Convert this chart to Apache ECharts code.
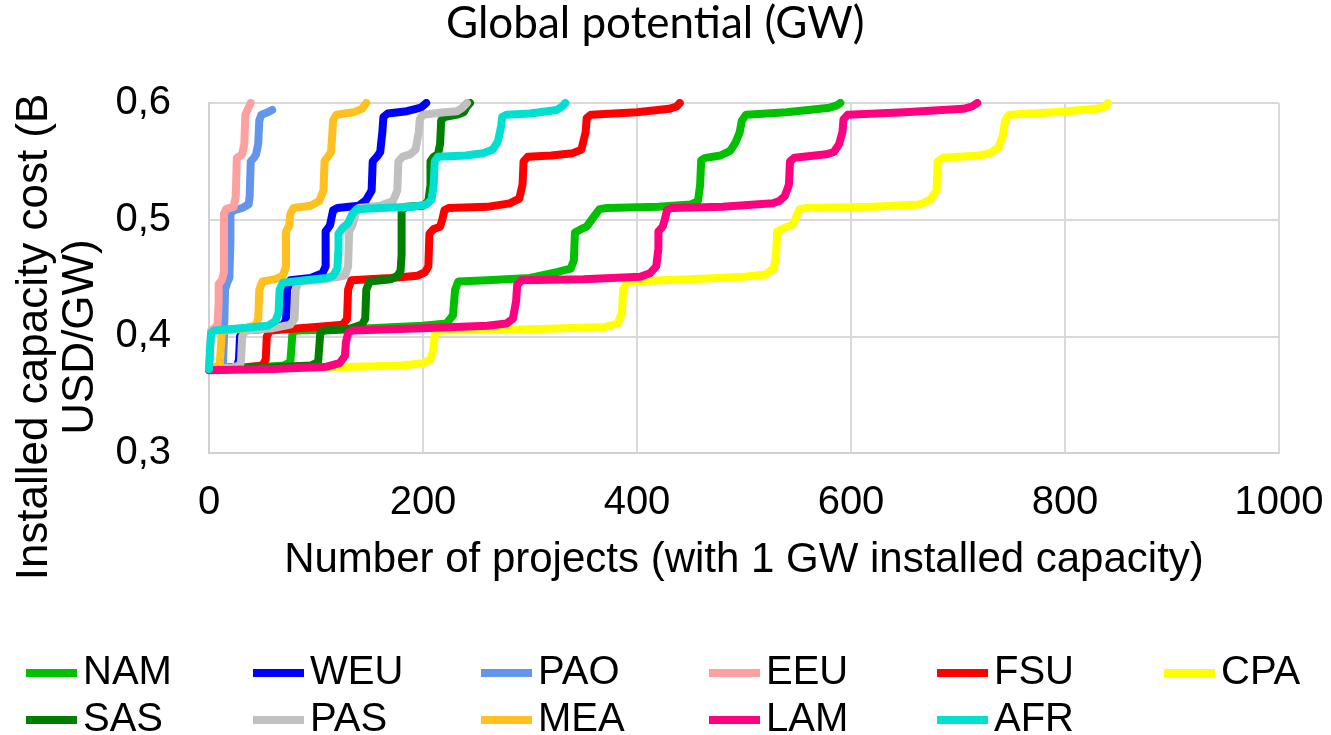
<!DOCTYPE html>
<html>
<head>
<meta charset="utf-8">
<script src="https://cdn.jsdelivr.net/npm/echarts@6/dist/echarts.min.js"></script>
<style>
  html, body { margin: 0; padding: 0; background: #fff; }
  #chart { width: 1331px; height: 735px; }
</style>
</head>
<body>
<div id="chart"></div>
<script>
// Supply curves: [number of 1 GW projects, installed capacity cost (B USD/GW)]
const NAM = [[0,0.372],[40,0.373],[70,0.375],[76,0.378],[77,0.39],[78,0.403],[82,0.405],[150,0.407],[200,0.409],[222,0.411],[228,0.418],[230,0.44],[233,0.447],[260,0.448],[300,0.45],[325,0.455],[338,0.458],[341,0.465],[342,0.489],[348,0.492],[353,0.494],[360,0.503],[365,0.509],[372,0.51],[420,0.511],[450,0.513],[457,0.516],[459,0.53],[460,0.551],[464,0.553],[478,0.555],[487,0.559],[492,0.566],[496,0.575],[498,0.585],[502,0.59],[540,0.592],[580,0.596],[587,0.598],[590,0.6]];
const WEU = [[0,0.372],[15,0.373],[26,0.374],[28,0.38],[29,0.4],[32,0.405],[60,0.407],[70,0.41],[72,0.415],[73,0.44],[76,0.448],[95,0.45],[106,0.454],[109,0.46],[109,0.49],[113,0.495],[116,0.508],[120,0.51],[140,0.512],[147,0.517],[152,0.525],[153,0.55],[157,0.554],[160,0.558],[162,0.575],[163,0.588],[167,0.591],[185,0.593],[198,0.596],[203,0.6]];
const PAO = [[0,0.372],[10,0.373],[13,0.376],[14,0.4],[15,0.44],[17,0.446],[19,0.45],[20,0.48],[20,0.505],[23,0.508],[31,0.51],[37,0.513],[38,0.52],[39,0.55],[42,0.553],[44,0.556],[46,0.565],[47,0.585],[49,0.59],[55,0.592],[59,0.594]];
const EEU = [[0,0.372],[1,0.385],[2,0.405],[5,0.407],[8,0.41],[9,0.43],[9,0.445],[12,0.448],[14,0.455],[14,0.505],[16,0.509],[23,0.511],[25,0.52],[26,0.553],[31,0.556],[33,0.565],[34,0.59],[36,0.594],[39,0.6]];
const FSU = [[0,0.372],[30,0.373],[50,0.375],[53,0.38],[54,0.4],[57,0.405],[100,0.408],[125,0.41],[129,0.415],[130,0.44],[133,0.448],[170,0.45],[195,0.452],[202,0.455],[205,0.46],[206,0.488],[210,0.492],[216,0.494],[218,0.5],[220,0.508],[224,0.51],[260,0.511],[281,0.514],[290,0.518],[293,0.53],[294,0.55],[298,0.554],[320,0.555],[340,0.557],[348,0.56],[352,0.575],[353,0.587],[357,0.59],[400,0.592],[430,0.595],[437,0.597],[440,0.6]];
const CPA = [[0,0.372],[100,0.373],[180,0.375],[200,0.377],[207,0.38],[210,0.39],[211,0.402],[215,0.405],[300,0.406],[370,0.408],[382,0.411],[386,0.42],[387,0.44],[391,0.447],[450,0.449],[500,0.451],[520,0.453],[528,0.458],[530,0.47],[531,0.49],[538,0.493],[546,0.496],[549,0.503],[552,0.509],[558,0.51],[620,0.511],[664,0.513],[674,0.517],[680,0.525],[681,0.55],[686,0.553],[720,0.555],[730,0.557],[738,0.562],[742,0.572],[744,0.585],[748,0.59],[790,0.592],[830,0.595],[838,0.597],[840,0.6]];
const SAS = [[0,0.372],[50,0.373],[95,0.375],[102,0.378],[103,0.39],[104,0.403],[108,0.405],[130,0.406],[143,0.41],[146,0.415],[147,0.44],[150,0.447],[170,0.449],[176,0.452],[179,0.456],[180,0.47],[180,0.508],[184,0.511],[200,0.512],[205,0.516],[207,0.53],[207,0.55],[210,0.554],[214,0.556],[216,0.565],[217,0.585],[220,0.588],[232,0.59],[238,0.592],[241,0.597],[244,0.6]];
const PAS = [[0,0.372],[20,0.373],[29,0.375],[30,0.38],[31,0.4],[34,0.405],[60,0.407],[76,0.41],[80,0.415],[81,0.44],[84,0.447],[110,0.449],[127,0.452],[130,0.46],[131,0.49],[134,0.495],[137,0.505],[140,0.51],[160,0.512],[172,0.516],[176,0.525],[177,0.55],[181,0.554],[188,0.556],[193,0.56],[196,0.575],[197,0.586],[200,0.59],[220,0.592],[232,0.593],[237,0.596],[241,0.6]];
const MEA = [[0,0.372],[5,0.373],[10,0.376],[11,0.39],[12,0.403],[15,0.405],[35,0.407],[44,0.41],[46,0.415],[47,0.44],[50,0.447],[62,0.449],[69,0.452],[72,0.46],[72,0.49],[75,0.495],[76,0.505],[79,0.51],[95,0.512],[103,0.516],[107,0.525],[108,0.55],[111,0.554],[114,0.558],[115,0.57],[116,0.585],[119,0.59],[135,0.592],[143,0.595],[147,0.6]];
const LAM = [[0,0.371],[60,0.372],[110,0.374],[122,0.377],[127,0.383],[128,0.395],[130,0.403],[134,0.405],[200,0.407],[260,0.409],[278,0.411],[284,0.415],[287,0.43],[288,0.444],[292,0.448],[350,0.449],[403,0.451],[412,0.454],[418,0.46],[420,0.475],[420,0.49],[424,0.494],[426,0.5],[428,0.508],[432,0.51],[480,0.511],[527,0.514],[533,0.516],[538,0.52],[542,0.53],[543,0.55],[547,0.553],[577,0.556],[584,0.558],[589,0.565],[592,0.575],[593,0.586],[597,0.59],[650,0.592],[705,0.595],[713,0.597],[718,0.6]];
const AFR = [[0,0.372],[1,0.39],[2,0.403],[5,0.405],[30,0.407],[55,0.409],[62,0.413],[65,0.42],[66,0.44],[69,0.446],[90,0.448],[110,0.45],[116,0.452],[120,0.458],[121,0.475],[121,0.488],[125,0.493],[130,0.497],[134,0.505],[138,0.509],[160,0.51],[190,0.511],[203,0.513],[208,0.517],[210,0.53],[211,0.55],[214,0.554],[240,0.555],[256,0.557],[265,0.56],[270,0.567],[273,0.58],[274,0.588],[278,0.59],[300,0.591],[325,0.594],[330,0.597],[333,0.6]];

const regions = ['NAM', 'WEU', 'PAO', 'EEU', 'FSU', 'CPA', 'SAS', 'PAS', 'MEA', 'LAM', 'AFR'];
const curves = { NAM, WEU, PAO, EEU, FSU, CPA, SAS, PAS, MEA, LAM, AFR };
const colors = {
  NAM: '#00C000', WEU: '#0000FF', PAO: '#6495ED', EEU: '#FFA0A0',
  FSU: '#FF0000', CPA: '#FFFF00', SAS: '#008000', PAS: '#C0C0C0',
  MEA: '#FFC020', LAM: '#FF0080', AFR: '#00E0D0'
};

const xTicks = { min: 0, max: 1000, interval: 200 };
const yTicks = { min: 0.3, max: 0.6, interval: 0.1 };

const FONT = '"Liberation Sans", Arial, sans-serif';

// legend: 6 columns x 2 rows, one legend block per region
const colLeft = [26, 253, 481, 709, 937, 1164];
const rowTop = [653, 700];
const legends = regions.map((name, i) => ({
  data: [name],
  left: colLeft[i % 6],
  top: rowTop[Math.floor(i / 6)],
  orient: 'horizontal',
  padding: 0,
  icon: 'rect',
  itemWidth: 51,
  itemHeight: 8,
  selectedMode: false,
  textStyle: { fontFamily: FONT, fontSize: 40, color: '#000', padding: [0, 0, 0, 1] }
}));

const chart = echarts.init(document.getElementById('chart'), null, { renderer: 'canvas' });
chart.setOption({
  animation: false,
  backgroundColor: '#fff',
  title: {
    text: 'Global potential (GW)',
    left: 446,
    top: 2,
    padding: 0,
    textStyle: { fontFamily: 'Lato, "Open Sans", sans-serif', fontWeight: 'normal', fontSize: 44, color: '#000' }
  },
  legend: legends,
  grid: { left: 209, right: 52, top: 103, bottom: 282, containLabel: false },
  xAxis: {
    type: 'value',
    min: xTicks.min, max: xTicks.max, interval: xTicks.interval,
    name: 'Number of projects (with 1 GW installed capacity)',
    nameLocation: 'middle',
    nameGap: 86,
    nameTextStyle: { fontFamily: FONT, fontSize: 42, color: '#000' },
    axisLine: { show: true, lineStyle: { color: '#D0D0D0', width: 2 } },
    axisTick: { show: false },
    splitLine: { show: true, lineStyle: { color: '#D9D9D9', width: 2 } },
    axisLabel: { fontFamily: FONT, fontSize: 40, color: '#000', margin: 30, formatter: v => String(v) }
  },
  yAxis: {
    type: 'value',
    min: yTicks.min, max: yTicks.max, interval: yTicks.interval,
    axisLine: { show: true, lineStyle: { color: '#D0D0D0', width: 2 } },
    axisTick: { show: false },
    splitLine: { show: true, lineStyle: { color: '#D9D9D9', width: 2 } },
    axisLabel: {
      fontFamily: FONT, fontSize: 40, color: '#000', margin: 38,
      formatter: v => v.toFixed(1).replace('.', ',')
    }
  },
  graphic: [{
    type: 'text',
    x: 58, y: 337,
    rotation: Math.PI / 2,
    style: {
      text: 'Installed capacity cost (B\nUSD/GW)',
      font: '44px "Liberation Sans", Arial, sans-serif',
      fill: '#000',
      align: 'center',
      verticalAlign: 'middle',
      lineHeight: 46
    }
  }],
  series: regions.map(name => ({
    name,
    type: 'line',
    data: curves[name],
    showSymbol: false,
    symbol: 'none',
    color: colors[name],
    lineStyle: { width: 8, color: colors[name], cap: 'round', join: 'round' },
    emphasis: { disabled: true }
  }))
});
</script>
</body>
</html>
